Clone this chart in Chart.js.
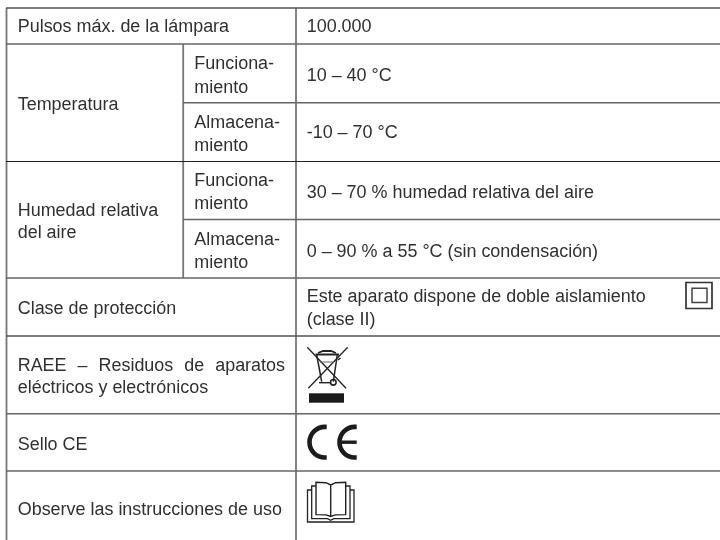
<!DOCTYPE html>
<html><head><meta charset="utf-8">
<style>html,body{margin:0;padding:0;background:#fff}canvas{display:block}</style>
<script src="https://cdn.jsdelivr.net/npm/chart.js@4"></script></head>
<body><canvas id="c" width="720" height="540"></canvas>
<script>
// Table content
const rowLabels = ["Pulsos máx. de la lámpara","Temperatura","Humedad relativa","del aire","Clase de protección","eléctricos y electrónicos","Sello CE","Observe las instrucciones de uso"];
const justifiedLabels = ["RAEE – Residuos de aparatos"];
const conditionLabels = ["Funciona-","miento","Almacena-","miento","Funciona-","miento","Almacena-","miento"];
const valueLabels = ["100.000","10 – 40 °C","-10 – 70 °C","30 – 70 % humedad relativa del aire","0 – 90 % a 55 °C (sin condensación)","Este aparato dispone de doble aislamiento","(clase II)"];

// Layout
const rowLabelBase = [32.3,110,216,237.5,314,392.7,450,515];
const justifiedBase = [370.7];
const conditionBase = [69.3,92.5,127.5,150.8,186,209,244.5,267.5];
const valueBase = [32.3,80.5,138.3,198,256.7,302,325];
const colText = [17.7,194.3,306.7];
const justifiedRight = 285;
const ruleRight = 720;
const ruleY =    [8,44,102.7,161.5,219.5,278,336,413.7,471];
const ruleFrom = [6,6,183,6,183,6,6,6,6];
const ruleColor =["#555","#666","#666","#222","#666","#666","#555","#666","#666"];
const ruleWidth =[1.3,1.6,1.6,1,1.6,1.6,1.3,1.6,1.6];
const vRuleX =   [6.5,183.2,296];
const vRuleFrom =[8,44,8];
const vRuleTo =  [540,278,540];

const hSets = ruleY.map((y,i)=>({type:'line',data:[{x:ruleFrom[i],y},{x:ruleRight,y}],borderColor:ruleColor[i],borderWidth:ruleWidth[i],pointRadius:0}));
const vSets = vRuleX.map((x,i)=>({type:'line',data:[{x,y:vRuleFrom[i]},{x,y:vRuleTo[i]}],borderColor:"#777",borderWidth:1.8,pointRadius:0}));

const tablePlugin = {id:'table',afterDatasetsDraw(chart){
  const g=chart.ctx, sx=chart.scales.x, sy=chart.scales.y;
  const X=v=>sx.getPixelForValue(v), Y=v=>sy.getPixelForValue(v);
  g.save();
  g.font='17.95px "Liberation Sans"'; g.fillStyle='#303030'; g.textBaseline='alphabetic'; g.textAlign='left';
  rowLabels.forEach((t,i)=>g.fillText(t,X(colText[0]),Y(rowLabelBase[i])));
  conditionLabels.forEach((t,i)=>g.fillText(t,X(colText[1]),Y(conditionBase[i])));
  valueLabels.forEach((t,i)=>g.fillText(t,X(colText[2]),Y(valueBase[i])));
  // justified line
  justifiedLabels.forEach((t,i)=>{
    const words=t.split(' ');
    const total=words.reduce((a,w)=>a+g.measureText(w).width,0);
    const gap=(X(justifiedRight)-X(colText[0])-total)/(words.length-1);
    let x=X(colText[0]);
    words.forEach(w=>{g.fillText(w,x,Y(justifiedBase[i]));x+=g.measureText(w).width+gap;});
  });
  const stroke=(pts,lw=1,col='#222',close=false)=>{g.beginPath();pts.forEach((p,i)=>i?g.lineTo(X(p[0]),Y(p[1])):g.moveTo(X(p[0]),Y(p[1])));if(close)g.closePath();g.lineWidth=lw;g.strokeStyle=col;g.stroke();};
  // double-insulation square
  stroke([[686,282.5],[712,282.5],[712,308.5],[686,308.5]],1.7,'#333',true);
  stroke([[692,288.3],[707,288.3],[707,302.5],[692,302.5]],1.5,'#444',true);
  // crossed-out bin
  stroke([[307.3,347.3],[346,388.3]],1.3);
  stroke([[347.7,347.3],[308.3,388.3]],1.3);
  stroke([[316.7,355],[321.7,381.7]],1.5);
  stroke([[337.3,355],[333.3,381.7]],1.5);
  stroke([[315.5,354.5],[339,354.5]],2);
  stroke([[318,353],[323,351],[331,351],[336,353]],1.8);
  stroke([[338,360],[340.5,358]],1.6);
  stroke([[319,382.7],[330,382.7]],1.4);
  stroke([[320,362],[334,362]],1,'#666');
  g.beginPath();g.arc(X(333.3),Y(382.3),2.8,0,Math.PI*2);g.lineWidth=1.6;g.strokeStyle='#222';g.stroke();
  g.fillStyle='#1a1a1a';g.fillRect(X(309),Y(393.3),X(344)-X(309),Y(402.7)-Y(393.3));
  // CE mark
  [[324.8,326.7],[354.8,356.7]].forEach(([cx,end],i)=>{
    g.beginPath();g.moveTo(X(end),Y(426.9));g.lineTo(X(cx),Y(426.9));
    g.arc(X(cx),Y(442.2),15.3,-Math.PI/2,-Math.PI*1.5,true);
    g.lineTo(X(end),Y(457.5));g.lineWidth=4.6;g.strokeStyle='#1c1c1c';g.stroke();
    if(i){stroke([[340,442.2],[end,442.2]],3.4,'#1c1c1c');}
  });
  // book
  stroke([[311.7,490],[307.5,490],[307.5,522],[354,522],[354,490],[350,490]],1.3);
  stroke([[316,486],[311.7,486],[311.7,518.7],[327.5,518.7],[330.7,520.3],[333.8,518.7],[350,518.7],[350,486],[345.7,486]],1.3);
  stroke([[330.7,485],[326,482.7],[316,482.3],[316,514.6],[326,514.9],[330.7,516.5],[335.5,514.9],[345.7,514.6],[345.7,482.3],[335.5,482.7],[330.7,485],[330.7,516.5]],1.4);
  g.restore();
}};

new Chart(document.getElementById('c'),{
  type:'line',
  data:{datasets:[...hSets,...vSets]},
  plugins:[tablePlugin],
  options:{responsive:false,animation:false,events:[],clip:false,
    layout:{padding:0},
    plugins:{legend:{display:false},tooltip:{enabled:false}},
    scales:{x:{type:'linear',min:0,max:720,display:false},y:{type:'linear',min:0,max:540,reverse:true,display:false}}}
});
</script></body></html>
